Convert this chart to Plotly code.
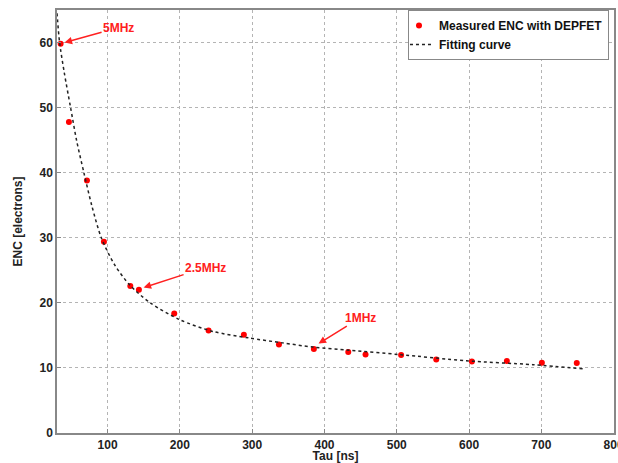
import plotly.graph_objects as go

# Measured ENC points
tau_meas = [35, 46.5, 71.4, 94.9, 131.4, 143.3, 192.2, 239.7, 288.5, 337, 385.3,
            432.9, 456.8, 506, 554.6, 603.9, 652.3, 700.7, 749]
enc_meas = [59.8, 47.8, 38.8, 29.4, 22.6, 22.0, 18.35, 15.75, 15.1, 13.6, 12.9,
            12.45, 12.05, 12.0, 11.3, 10.97, 11.07, 10.8, 10.77]

# Fitting curve
tau_fit = [30, 33.6, 40, 48.8, 57, 67.2, 78, 91.3, 110, 131, 159, 200, 246, 296,
           342, 384, 435, 504, 596, 688, 758]
enc_fit = [64.5, 60, 55.4, 50, 45, 40, 35, 30, 25.8, 22.7, 20, 17.4, 15.6, 14.6,
           13.85, 13.2, 12.7, 12.05, 11.1, 10.5, 9.85]

x_ticks = [100, 200, 300, 400, 500, 600, 700, 800]
y_ticks = [0, 10, 20, 30, 40, 50, 60]

font_family = "Liberation Sans, Arial, sans-serif"

fig = go.Figure()
fig.add_trace(go.Scatter(
    x=tau_meas, y=enc_meas, mode="markers", name="<b>Measured ENC with DEPFET</b>",
    marker=dict(color="#ff0000", size=6, line=dict(width=0)),
))
fig.add_trace(go.Scatter(
    x=tau_fit, y=enc_fit, mode="lines", name="<b>Fitting curve</b>",
    line=dict(color="#222222", width=1.5, dash="dot", shape="spline", smoothing=0.8),
))

annots = [
    dict(text="5MHz", x=40.5, y=60.0, ax=54, ay=-15),
    dict(text="2.5MHz", x=149.8, y=22.35, ax=62, ay=-20),
    dict(text="1MHz", x=391.8, y=13.74, ax=42, ay=-26),
]
for a in annots:
    fig.add_annotation(
        x=a["x"], y=a["y"], ax=a["ax"], ay=a["ay"], xref="x", yref="y",
        text="<b>" + a["text"] + "</b>", showarrow=True, arrowhead=2,
        arrowsize=1, arrowwidth=1.5, arrowcolor="#ff2020",
        font=dict(color="#ff2020", size=12, family=font_family),
    )

axis_common = dict(
    showline=True, linecolor="#888888", linewidth=1.5, mirror=True,
    showgrid=True, gridcolor="#b4b4b4", griddash="dot", gridwidth=1,
    ticks="inside", ticklen=4, tickcolor="#888888", zeroline=False,
    automargin=False, ticklabeloverflow="allow",
    tickfont=dict(size=12, family=font_family, color="#222222", weight="bold"),
)

fig.update_layout(
    width=618, height=463,
    margin=dict(l=57, r=4, t=10, b=30),
    paper_bgcolor="white", plot_bgcolor="white",
    font=dict(family=font_family, color="#222222"),
    showlegend=True,
    legend=dict(
        x=0.991, y=1.0, xanchor="right", yanchor="top",
        bgcolor="white", bordercolor="#888888", borderwidth=1,
        font=dict(size=12, family=font_family, color="#111111"),
        itemwidth=30, tracegroupgap=0, indentation=-10,
    ),
    xaxis=dict(range=[30, 800.5], tickvals=x_ticks,
               title=dict(text="<b>Tau [ns]</b>", standoff=2,
                          font=dict(size=12, family=font_family, color="#222222")),
               **axis_common),
    yaxis=dict(range=[0, 65], tickvals=y_ticks,
               title=dict(text="<b>ENC [electrons]</b>", standoff=14,
                          font=dict(size=12, family=font_family, color="#222222")),
               **axis_common),
)

fig.write_html(
    "out.html",
    config={"displayModeBar": False},
    post_script="document.body.style.margin='0';document.body.style.overflow='hidden';",
)
